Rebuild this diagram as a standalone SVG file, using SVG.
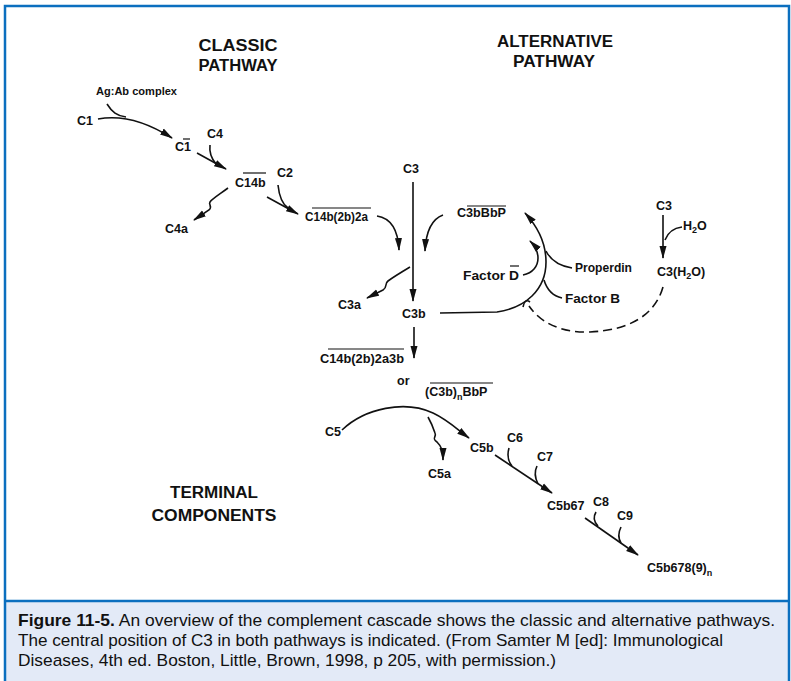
<svg xmlns="http://www.w3.org/2000/svg" width="791" height="681" viewBox="0 0 791 681">
<defs>
<style>
.lbl{font-family:"Liberation Sans",Arial,sans-serif;font-size:12.5px;font-weight:bold;fill:#111}
.ttl{font-family:"Liberation Sans",Arial,sans-serif;font-size:16px;font-weight:bold;fill:#111}
.sm{font-family:"Liberation Sans",Arial,sans-serif;font-size:11px;font-weight:bold;fill:#111}
.sub{font-size:9px}
.ln{fill:none;stroke:#111;stroke-width:1.6}
.ov{stroke:#111;stroke-width:1.2}
.arr{marker-end:url(#ah)}
.dash{stroke-dasharray:9 5}
.cap{font-family:"Liberation Sans",Arial,sans-serif;font-size:17px;fill:#111}
</style>
<marker id="ah" viewBox="0 0 13 8" refX="12" refY="4" markerWidth="13" markerHeight="8" markerUnits="userSpaceOnUse" orient="auto">
<path d="M0,0.5 L13,4 L0,7.5 z" fill="#111"/>
</marker>
</defs>
<rect x="0" y="0" width="791" height="681" fill="#fff"/>
<g id="frame">
<rect x="5" y="601" width="784" height="90" fill="#E3EAF7"/>
<line x1="5" y1="601" x2="789" y2="601" stroke="#0B6FBF" stroke-width="2.5"/>
<rect x="5" y="6" width="784" height="690" fill="none" stroke="#0B6FBF" stroke-width="2.5"/>
</g>
<g id="titles">
<text class="ttl" x="238" y="51" text-anchor="middle" textLength="79" lengthAdjust="spacingAndGlyphs">CLASSIC</text>
<text class="ttl" x="238" y="71" text-anchor="middle" textLength="79" lengthAdjust="spacingAndGlyphs">PATHWAY</text>
<text class="ttl" x="555" y="47" text-anchor="middle" textLength="116" lengthAdjust="spacingAndGlyphs">ALTERNATIVE</text>
<text class="ttl" x="554" y="67" text-anchor="middle" textLength="82" lengthAdjust="spacingAndGlyphs">PATHWAY</text>
<text class="ttl" x="214" y="498" text-anchor="middle" textLength="88" lengthAdjust="spacingAndGlyphs">TERMINAL</text>
<text class="ttl" x="214" y="521" text-anchor="middle" textLength="125" lengthAdjust="spacingAndGlyphs">COMPONENTS</text>
</g>
<g id="connectors">
<path class="ln arr" d="M98,119 C125,114 150,124 172,138"/>
<path class="ln" d="M107,104 C112,112 117,116 126,117"/>
<path class="ln arr" d="M197,153 L226,169"/>
<path class="ln" d="M210,145 C209,153 211,158 216,164"/>
<path class="ln arr" d="M228,188 C220,194 212,199 210,202 C208,205 213,206 209,210 L194,220"/>
<path class="ln arr" d="M267,197 L298,214"/>
<path class="ln" d="M278,185 C279,195 281,203 288,208"/>
<path class="ln arr" d="M377,216 C390,218 398,228 399,250"/>
<path class="ln arr" d="M413,182 L413,301"/>
<path class="ln arr" d="M443,215 C432,219 426,230 425,251"/>
<path class="ln arr" d="M410,267 C400,273 392,278 388,281 C384,284 388,287 383,290 L367,298"/>
<path class="ln arr" d="M440,313 L497,312 C525,308 546,290 546,262 C546,243 537,226 525,213"/>
<path class="ln arr" d="M523,275 C533,273 538,266 538,258 C538,250 534,245 530,241"/>
<path class="ln" d="M572,268 C560,266 551,261 546,251"/>
<path class="ln" d="M562,298 C553,296 547,290 544,280"/>
<path class="ln arr" d="M663,215 L663,258"/>
<path class="ln" d="M682,227 C674,228 668,232 665,240"/>
<path class="ln dash" d="M663,287 C655,315 630,330 590,332 C560,333 540,322 529,306"/>
<path class="ln" d="M523,307 C524,302 526,299 530,302"/>
<path class="ln arr" d="M414,327 L414,358"/>
<path class="ln arr" d="M342,430 C365,408 405,400 433,413 C448,420 458,430 469,438"/>
<path class="ln arr" d="M428,417 C432,424 434,430 435,433 C437,437 431,438 437,442 C441,446 443,450 443,460"/>
<path class="ln arr" d="M495,455 L552,493"/>
<path class="ln" d="M509,448 C507,455 508,461 512,466"/>
<path class="ln" d="M537,466 C534,472 535,478 538,484"/>
<path class="ln arr" d="M585,518 L638,555"/>
<path class="ln" d="M596,512 C593,517 594,522 598,526"/>
<path class="ln" d="M621,527 C618,533 618,538 621,543"/>
</g>
<g id="agab"><text class="sm" x="96" y="95" textLength="81" lengthAdjust="spacingAndGlyphs">Ag:Ab complex</text></g>
<g id="c1"><text class="lbl" x="77" y="125">C1</text></g>
<g id="c1bar"><text class="lbl" x="175" y="151">C1</text><line class="ov" x1="183" y1="139" x2="190" y2="139"/></g>
<g id="c4"><text class="lbl" x="207" y="138">C4</text></g>
<g id="c14b"><text class="lbl" x="235" y="187">C14b</text><line class="ov" x1="243" y1="173" x2="266" y2="173"/></g>
<g id="c2"><text class="lbl" x="277" y="177">C2</text></g>
<g id="c4a"><text class="lbl" x="165" y="233">C4a</text></g>
<g id="c14b2b2a"><text class="lbl" x="305" y="221" textLength="63" lengthAdjust="spacingAndGlyphs">C14b(2b)2a</text><line class="ov" x1="312" y1="208" x2="371" y2="208"/></g>
<g id="c3top"><text class="lbl" x="403" y="173">C3</text></g>
<g id="c3bbbp"><text class="lbl" x="457" y="217" textLength="49" lengthAdjust="spacingAndGlyphs">C3bBbP</text><line class="ov" x1="467" y1="206" x2="506" y2="206"/></g>
<g id="factord"><text class="lbl" x="463" y="280" textLength="56" lengthAdjust="spacingAndGlyphs">Factor D</text><line class="ov" x1="510" y1="266" x2="519" y2="266"/></g>
<g id="c3a"><text class="lbl" x="338" y="309">C3a</text></g>
<g id="c3b"><text class="lbl" x="402" y="318">C3b</text></g>
<g id="properdin"><text class="lbl" x="575" y="272" textLength="57" lengthAdjust="spacingAndGlyphs">Properdin</text></g>
<g id="factorb"><text class="lbl" x="565" y="303" textLength="55" lengthAdjust="spacingAndGlyphs">Factor B</text></g>
<g id="c3right"><text class="lbl" x="656" y="210">C3</text></g>
<g id="h2o"><text class="lbl" x="683" y="230">H<tspan class="sub" dy="3">2</tspan><tspan dy="-3">O</tspan></text></g>
<g id="c3h2o"><text class="lbl" x="657" y="276">C3(H<tspan class="sub" dy="3">2</tspan><tspan dy="-3">O)</tspan></text></g>
<g id="c14b2b2a3b"><text class="lbl" x="320" y="363" textLength="84" lengthAdjust="spacingAndGlyphs">C14b(2b)2a3b</text><line class="ov" x1="328" y1="349" x2="404" y2="349"/></g>
<g id="or"><text class="lbl" x="397" y="385">or</text></g>
<g id="c3bnbbp"><text class="lbl" x="425" y="396">(C3b)<tspan class="sub" dy="4">n</tspan><tspan dy="-4">BbP</tspan></text><line class="ov" x1="430" y1="383" x2="493" y2="383"/></g>
<g id="c5"><text class="lbl" x="325" y="436">C5</text></g>
<g id="c5a"><text class="lbl" x="428" y="478">C5a</text></g>
<g id="c5b"><text class="lbl" x="470" y="452">C5b</text></g>
<g id="c6"><text class="lbl" x="507" y="442">C6</text></g>
<g id="c7"><text class="lbl" x="537" y="461">C7</text></g>
<g id="c5b67"><text class="lbl" x="547" y="510">C5b67</text></g>
<g id="c8"><text class="lbl" x="593" y="506">C8</text></g>
<g id="c9"><text class="lbl" x="617" y="520">C9</text></g>
<g id="c5b678"><text class="lbl" x="647" y="572">C5b678(9)<tspan class="sub" dy="4">n</tspan></text></g>
<g id="caption">
<text class="cap" x="18" y="626" textLength="757" lengthAdjust="spacingAndGlyphs"><tspan font-weight="bold">Figure 11-5.</tspan> An overview of the complement cascade shows the classic and alternative pathways.</text>
<text class="cap" x="18" y="646" textLength="705" lengthAdjust="spacingAndGlyphs">The central position of C3 in both pathways is indicated.  (From Samter M [ed]: Immunological</text>
<text class="cap" x="18" y="666" textLength="538" lengthAdjust="spacingAndGlyphs">Diseases, 4th ed. Boston, Little, Brown, 1998, p 205, with permission.)</text>
</g>
</svg>
